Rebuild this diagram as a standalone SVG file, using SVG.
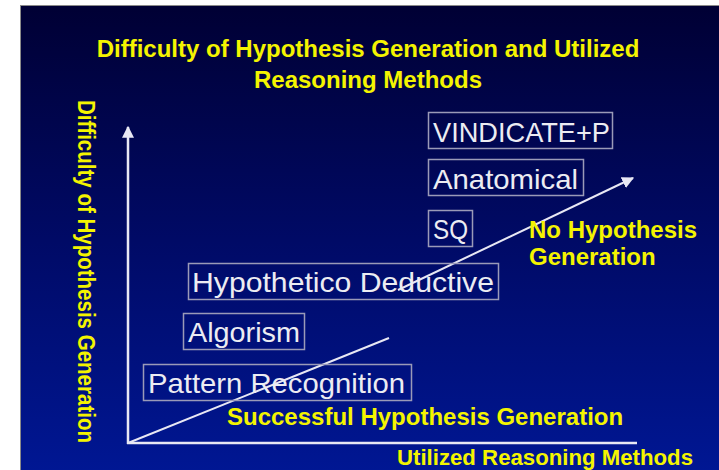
<svg xmlns="http://www.w3.org/2000/svg" width="719" height="470" viewBox="0 0 719 470">
<defs>
<linearGradient id="bg" x1="0" y1="0" x2="0" y2="1">
<stop offset="0" stop-color="#000034"/>
<stop offset="0.5" stop-color="#000a66"/>
<stop offset="1" stop-color="#001794"/>
</linearGradient>
<marker id="arr" viewBox="0 0 10 10" refX="9" refY="5" markerWidth="12" markerHeight="12" markerUnits="userSpaceOnUse" orient="auto">
<path d="M0,0 L10,5 L0,10 Z" fill="#e8e8f4"/>
</marker>
<style>
.ttl{font-family:"Liberation Sans",Arial,sans-serif;font-weight:bold;font-size:24px;fill:#f4f400}
.box rect{fill:none;stroke:#9a9ab8;stroke-width:1.5}
.box text{font-family:"Liberation Sans",Arial,sans-serif;font-size:28px;fill:#ececf2}
.ax{stroke:#e8e8f4;stroke-width:2.5;fill:none}
.dg{stroke:#e8e8f4;stroke-width:2;fill:none}
</style>
</defs>
<rect x="0" y="0" width="719" height="470" fill="#ffffff"/>
<rect x="20.5" y="5.5" width="710" height="470" fill="url(#bg)" stroke="#8a8a8a" stroke-width="1"/>

<g id="title">
<text class="ttl" x="368" y="57" text-anchor="middle">Difficulty of Hypothesis Generation and Utilized</text>
<text class="ttl" x="368" y="88" text-anchor="middle">Reasoning Methods</text>
</g>

<g id="connectors">
<line class="ax" x1="128" y1="444" x2="128" y2="127" marker-end="url(#arr)"/>
<line class="ax" x1="127" y1="443" x2="637" y2="443"/>
<line class="dg" x1="128" y1="443" x2="389" y2="338"/>
<line class="dg" x1="398" y1="290" x2="633" y2="178" marker-end="url(#arr)"/>
</g>

<g id="y-label">
<text class="ttl" transform="translate(78,100) rotate(90)" x="0" y="0" textLength="343" lengthAdjust="spacingAndGlyphs">Difficulty of Hypothesis Generation</text>
</g>
<g id="x-label">
<text class="ttl" x="397" y="465" style="font-size:22px" textLength="296" lengthAdjust="spacingAndGlyphs">Utilized Reasoning Methods</text>
</g>
<g id="successful">
<text class="ttl" x="227" y="425">Successful Hypothesis Generation</text>
</g>
<g id="no-hypothesis">
<text class="ttl" x="529" y="238">No Hypothesis</text>
<text class="ttl" x="529" y="265">Generation</text>
</g>

<g id="vindicate" class="box">
<rect x="428.5" y="112.5" width="184" height="36"/>
<text x="433" y="142" textLength="177" lengthAdjust="spacingAndGlyphs">VINDICATE+P</text>
</g>
<g id="anatomical" class="box">
<rect x="428.5" y="159.5" width="155" height="36"/>
<text x="433" y="189" textLength="145" lengthAdjust="spacingAndGlyphs">Anatomical</text>
</g>
<g id="sq" class="box">
<rect x="428.5" y="210.5" width="44" height="36"/>
<text x="433" y="239" textLength="35" lengthAdjust="spacingAndGlyphs">SQ</text>
</g>
<g id="hypothetico" class="box">
<rect x="188.5" y="263.5" width="310" height="36"/>
<text x="192" y="292" textLength="302" lengthAdjust="spacingAndGlyphs">Hypothetico Deductive</text>
</g>
<g id="algorism" class="box">
<rect x="183.5" y="313.5" width="121" height="36"/>
<text x="188" y="342" textLength="112" lengthAdjust="spacingAndGlyphs">Algorism</text>
</g>
<g id="pattern" class="box">
<rect x="143.5" y="364.5" width="268" height="36"/>
<text x="148" y="393" textLength="257" lengthAdjust="spacingAndGlyphs">Pattern Recognition</text>
</g>
</svg>
